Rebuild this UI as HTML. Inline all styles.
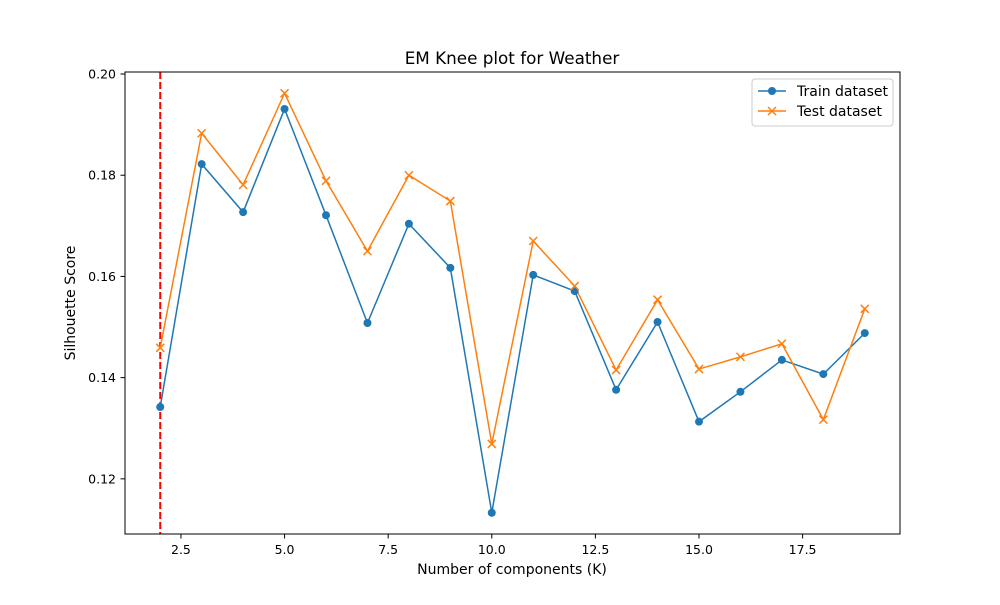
<!DOCTYPE html>
<html><head><meta charset="utf-8"><style>
body{margin:0;background:#fff;}
svg text{font-family:"DejaVu Sans","Liberation Sans",sans-serif;fill:#000;}
</style></head><body>
<svg id="chart" width="1000" height="600" xmlns="http://www.w3.org/2000/svg">
<rect width="1000" height="600" fill="#fff"/>
<text x="512" y="64" font-size="16.8" text-anchor="middle">EM Knee plot for Weather</text>
<text x="512" y="574" font-size="14" text-anchor="middle">Number of components (K)</text>
<text transform="translate(75,303) rotate(-90)" font-size="14" text-anchor="middle">Silhouette Score</text>
<g id="ticks"></g>
<g id="plot"></g>
<rect x="125" y="72" width="775" height="462" fill="none" stroke="#000" stroke-width="1"/>
<g>
<rect x="752" y="79" width="141" height="47" rx="3" fill="#fff" stroke="#ccc"/>
<line x1="758" y1="91" x2="786" y2="91" stroke="#1f77b4" stroke-width="1.5"/>
<circle cx="772" cy="91" r="4" fill="#1f77b4"/>
<text x="797" y="96" font-size="14">Train dataset</text>
<line x1="758" y1="111" x2="786" y2="111" stroke="#ff7f0e" stroke-width="1.5"/>
<path d="M768,107 L776,115 M776,107 L768,115" stroke="#ff7f0e" stroke-width="1.5"/>
<text x="797" y="116" font-size="14">Test dataset</text>
</g>
</svg>
<script>
const ks=[2,3,4,5,6,7,8,9,10,11,12,13,14,15,16,17,18,19];
const trainScores=[0.1342,0.1822,0.1727,0.1931,0.1721,0.1508,0.1704,0.1617,0.1133,0.1603,0.1571,0.1376,0.1510,0.1313,0.1372,0.1435,0.1407,0.1488];
const testScores=[0.1459,0.1883,0.1781,0.1962,0.1789,0.1650,0.1800,0.1749,0.1269,0.1670,0.1581,0.1415,0.1554,0.1417,0.1441,0.1467,0.1317,0.1536];
const xTicks=[2.5,5.0,7.5,10.0,12.5,15.0,17.5];
const yTicks=[0.12,0.14,0.16,0.18,0.20];
const kneeK=2;
const NS="http://www.w3.org/2000/svg";
const X0=125,X1=900,Y0=534,Y1=72;
const xmin=1.15,xmax=19.85,ymin=0.1091,ymax=0.2004;
const sx=v=>X0+(v-xmin)/(xmax-xmin)*(X1-X0);
const sy=v=>Y0-(v-ymin)/(ymax-ymin)*(Y0-Y1);
function mk(t,a,p){const e=document.createElementNS(NS,t);for(const k in a)e.setAttribute(k,a[k]);p.appendChild(e);return e;}
const tg=document.getElementById('ticks'),pg=document.getElementById('plot');
xTicks.forEach(v=>{const x=sx(v);
const l=mk('line',{x1:x,x2:x,y1:534,y2:538.5,stroke:'#000'},tg);


const t=mk('text',{x:x,y:554,'font-size':12.5,'text-anchor':'middle'},tg);t.textContent=v.toFixed(1);

});
yTicks.forEach(v=>{const y=sy(v);
const l=mk('line',{x1:120.5,x2:125,y1:y,y2:y,stroke:'#000'},tg);


const t=mk('text',{x:116,y:y+4.5,'font-size':12.5,'text-anchor':'end'},tg);t.textContent=v.toFixed(2);

});
const kl=mk('line',{x1:sx(kneeK),x2:sx(kneeK),y1:Y1,y2:Y0,stroke:'#ff0000','stroke-width':2,'stroke-dasharray':'7,3'},pg);


const p1=mk('polyline',{points:ks.map((k,i)=>sx(k)+','+sy(trainScores[i])).join(' '),fill:'none',stroke:'#1f77b4','stroke-width':1.5},pg);


const p2=mk('polyline',{points:ks.map((k,i)=>sx(k)+','+sy(testScores[i])).join(' '),fill:'none',stroke:'#ff7f0e','stroke-width':1.5},pg);


ks.forEach((k,i)=>{
const c=mk('circle',{cx:sx(k),cy:sy(trainScores[i]),r:4,fill:'#1f77b4'},pg);


const x=sx(k),y=sy(testScores[i]);
const m=mk('path',{d:`M${x-4},${y-4}L${x+4},${y+4}M${x+4},${y-4}L${x-4},${y+4}`,stroke:'#ff7f0e','stroke-width':1.5},pg);


});
</script>
</body></html>
